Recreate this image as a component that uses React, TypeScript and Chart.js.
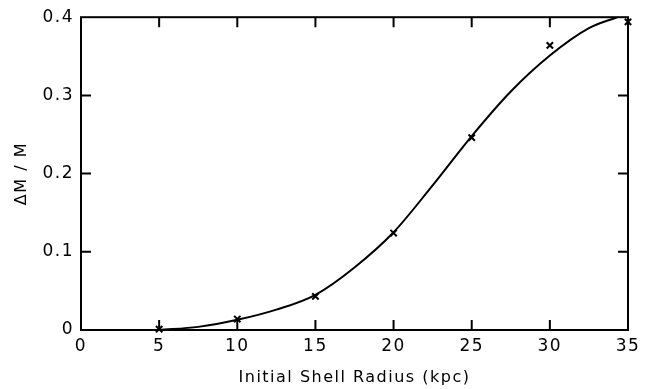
import React, { useEffect, useRef } from "react";
import { Chart, registerables } from "chart.js";

Chart.register(...registerables);

// Smooth model curve (initial shell radius kpc, ΔM/M)
const curveX = [5, 7.5, 10, 12.5, 15, 17.5, 20, 22.5, 25, 27.5, 30, 32.5, 34.3];
const curveY = [0, 0.004, 0.013, 0.026, 0.045, 0.08, 0.125, 0.185, 0.248, 0.305, 0.351, 0.386, 0.4];

// Measured points (× markers)
const markX = [5, 10, 15, 20, 25, 30, 35];
const markY = [0.001, 0.014, 0.043, 0.124, 0.246, 0.364, 0.394];

const xTicks = [0, 5, 10, 15, 20, 25, 30, 35];
const yTicks = [0, 0.1, 0.2, 0.3, 0.4];

const xTitle = "Initial Shell Radius (kpc)";
const yTitle = "ΔM / M";

const FONT = "'DejaVu Sans', sans-serif";
const SPACING = "1.5px";

const framePlugin = {
  id: "frameTicks",
  beforeUpdate(chart: any) {
    chart.ctx.letterSpacing = SPACING;
  },
  beforeDraw(chart: any) {
    chart.ctx.letterSpacing = SPACING;
  },
  beforeDatasetsDraw(chart: any) {
    const { ctx, chartArea, scales } = chart;
    const { left, right, top, bottom } = chartArea;
    const x = scales.x;
    const y = scales.y;
    const len = 10;
    ctx.save();
    ctx.strokeStyle = "#000";
    ctx.lineWidth = 2;
    ctx.strokeRect(left, top, right - left, bottom - top);
    ctx.beginPath();
    xTicks.forEach((v) => {
      if (v === xTicks[0] || v === xTicks[xTicks.length - 1]) return;
      const px = x.getPixelForValue(v);
      ctx.moveTo(px, bottom);
      ctx.lineTo(px, bottom - len);
      ctx.moveTo(px, top);
      ctx.lineTo(px, top + len);
    });
    yTicks.forEach((v) => {
      if (v === yTicks[0] || v === yTicks[yTicks.length - 1]) return;
      const py = y.getPixelForValue(v);
      ctx.moveTo(left, py);
      ctx.lineTo(left + len, py);
      ctx.moveTo(right, py);
      ctx.lineTo(right - len, py);
    });
    ctx.stroke();
    ctx.restore();
  },
};

export default function App() {
  const ref = useRef<HTMLCanvasElement | null>(null);

  useEffect(() => {
    document.body.style.margin = "0";
    const canvas = ref.current;
    if (!canvas) return;
    const chart = new Chart(canvas, {
      type: "line",
      data: {
        datasets: [
          {
            type: "line",
            label: "model",
            data: curveX.map((x, i) => ({ x, y: curveY[i] })),
            borderColor: "#000",
            borderWidth: 2,
            pointRadius: 0,
            cubicInterpolationMode: "monotone",
            fill: false,
          },
          {
            type: "scatter",
            label: "points",
            data: markX.map((x, i) => ({ x, y: markY[i] })),
            pointStyle: "crossRot",
            pointRadius: 4.5,
            borderColor: "#000",
            backgroundColor: "#000",
            pointBorderWidth: 2,
            borderWidth: 2,
            showLine: false,
            clip: false,
          } as any,
        ],
      },
      options: {
        animation: false,
        responsive: false,
        devicePixelRatio: 1,
        layout: { padding: { left: 0, right: 19, top: 17, bottom: 0 } },
        plugins: { legend: { display: false }, tooltip: { enabled: false } },
        scales: {
          x: {
            type: "linear",
            min: 0,
            max: 35,
            afterBuildTicks: (s: any) => {
              s.ticks = xTicks.map((v) => ({ value: v }));
            },
            afterFit: (s: any) => {
              s.height = 59;
            },
            grid: { display: false, drawTicks: false },
            border: { display: false },
            ticks: {
              color: "#000",
              padding: 6,
              maxRotation: 0,
              font: { family: FONT, size: 17 },
              callback: (v: any) => String(v),
            },
            title: {
              display: true,
              text: xTitle,
              color: "#000",
              font: { family: FONT, size: 16 },
              padding: { top: 0, bottom: 2 },
            },
          },
          y: {
            type: "linear",
            min: 0,
            max: 0.4,
            afterBuildTicks: (s: any) => {
              s.ticks = yTicks.map((v) => ({ value: v }));
            },
            afterFit: (s: any) => {
              s.width = 81;
            },
            grid: { display: false, drawTicks: false },
            border: { display: false },
            ticks: {
              color: "#000",
              padding: 7,
              font: { family: FONT, size: 17 },
              callback: (v: any) => (Number(v) === 0 ? "0" : Number(v).toFixed(1)),
            },
            title: {
              display: true,
              text: yTitle,
              color: "#000",
              font: { family: FONT, size: 16 },
              padding: { top: 12, bottom: 0 },
            },
          },
        },
      },
      plugins: [framePlugin],
    } as any);
    return () => chart.destroy();
  }, []);

  return (
    <div style={{ width: 647, height: 389, background: "#fff" }}>
      <canvas ref={ref} width={647} height={389} style={{ display: "block" }} />
    </div>
  );
}
